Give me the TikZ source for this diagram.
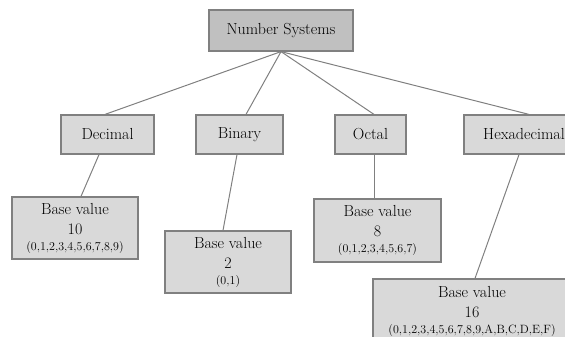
\documentclass[tikz,border=0pt]{standalone}
\usepackage{tikz}
\definecolor{boxgray}{HTML}{D9D9D9}
\definecolor{topgray}{HTML}{C0C0C0}
\definecolor{edgegray}{HTML}{808080}
\tikzset{
  sysbox/.style={draw=edgegray,line width=1.2pt,fill=boxgray,minimum height=39pt,inner sep=2pt,font=\fontsize{16}{20}\selectfont},
  basebox/.style={sysbox,align=center,minimum width=126pt,minimum height=62pt},
  link/.style={draw=edgegray,line width=1pt}
}
\newcommand{\digitset}[1]{{\fontsize{12}{14}\selectfont #1}}

\begin{document}
\begin{tikzpicture}[x=1pt,y=-1pt]
\useasboundingbox (0,0) rectangle (565,337);
% top level
\node[sysbox,fill=topgray,minimum width=144pt,minimum height=41pt](ns) at (281,30.5){Number Systems};
% systems
\node[sysbox,minimum width=93pt](dec) at (107.5,134.5){Decimal};
\node[sysbox,minimum width=87pt](bin) at (239.5,134.5){Binary};
\node[sysbox,minimum width=71pt](oct) at (370.5,134.5){Octal};
\node[sysbox,minimum width=120pt](hex) at (524,134.5){Hexadecimal};
% base values
\node[basebox](decb) at (75,228){Base value\\10\\[-4pt]\digitset{(0,1,2,3,4,5,6,7,8,9)}};
\node[basebox](binb) at (228,262){Base value\\2\\[-4pt]\digitset{(0,1)}};
\node[basebox,minimum width=127pt,minimum height=63pt](octb) at (377.5,230.5){Base value\\8\\[-4pt]\digitset{(0,1,2,3,4,5,6,7)}};
\node[basebox,minimum width=198pt,minimum height=64pt](hexb) at (472,311){Base value\\16\\[-4pt]\digitset{(0,1,2,3,4,5,6,7,8,9,A,B,C,D,E,F)}};
% links
\draw[link](ns.south)--([xshift=-2.5pt]dec.north);
\draw[link](ns.south)--([xshift=6.5pt]bin.north);
\draw[link](ns.south)--([xshift=3.5pt]oct.north);
\draw[link](ns.south)--([xshift=5pt]hex.north);
\draw[link]([xshift=-8.5pt]dec.south)--([xshift=6pt]decb.north);
\draw[link]([xshift=-2.5pt]bin.south)--([xshift=-5pt]binb.north);
\draw[link]([xshift=3.5pt]oct.south)--([xshift=-3.5pt]octb.north);
\draw[link]([xshift=-5pt]hex.south)--([xshift=3pt]hexb.north);
\end{tikzpicture}
\end{document}
